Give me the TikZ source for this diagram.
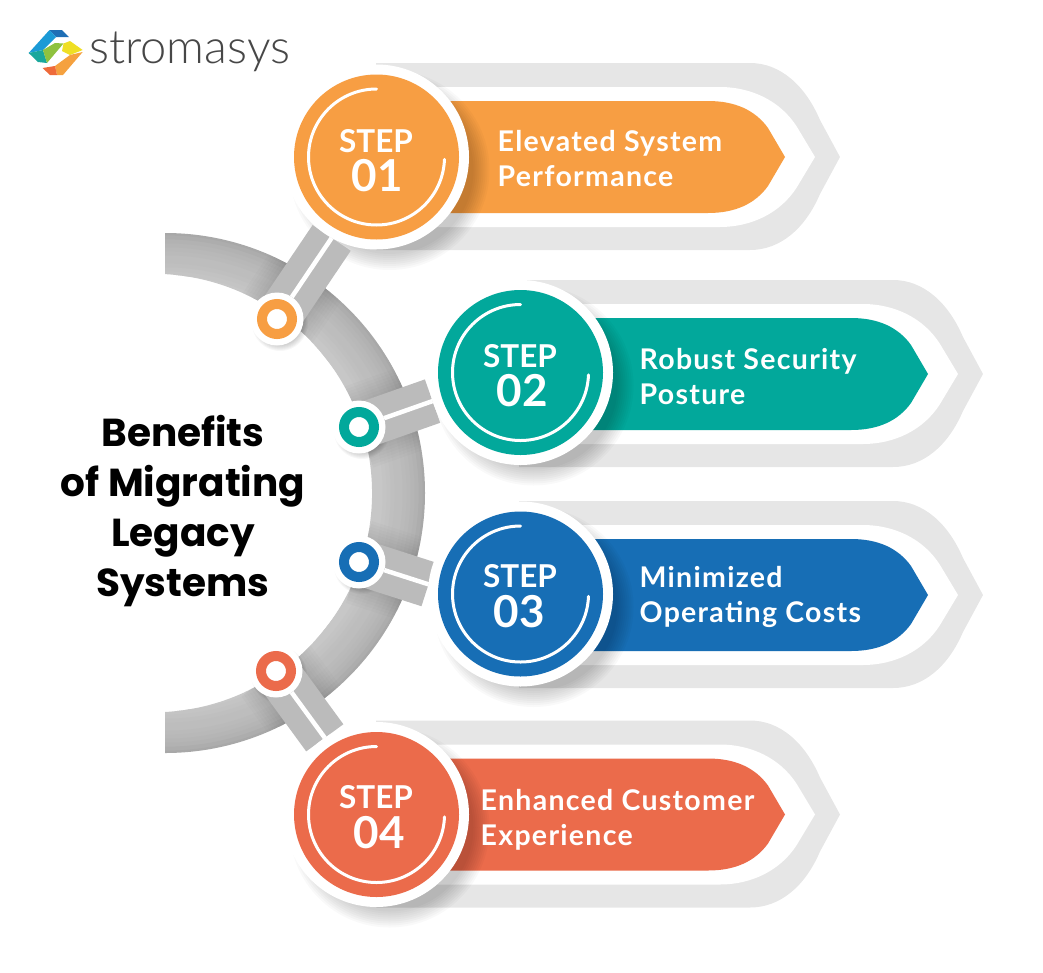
\documentclass[tikz,border=0pt]{standalone}
\usepackage{fontspec}
\usetikzlibrary{calc}
\setmainfont{Lato}
\newfontfamily\headfont{Poppins Bold}
\newfontfamily\logofont{Lato Light}
\newfontfamily\medfont{Lato Bold}
\newfontfamily\barfont[LetterSpace=4.5]{Lato Bold}
\definecolor{corange}{HTML}{F79E43}
\definecolor{cteal}{HTML}{02A89B}
\definecolor{cblue}{HTML}{176EB5}
\definecolor{ccoral}{HTML}{EB6B4B}
\definecolor{strip}{HTML}{E6E6E6}
\definecolor{stemgrey}{HTML}{BBBBBB}
\definecolor{lgblue}{HTML}{1F6FB5}
\definecolor{lgsky}{HTML}{1B9AD6}
\definecolor{lgteal}{HTML}{1AA79C}
\definecolor{lggreen}{HTML}{8FC23F}
\definecolor{lgyellow}{HTML}{EFDF24}
\definecolor{lgorange}{HTML}{F5A13F}
\definecolor{lgred}{HTML}{EE6A3A}
\pgfdeclarelayer{back}
\pgfsetlayers{back,main}
\tikzset{
  halobig/.style={circle,fill=white,inner sep=0,outer sep=0,minimum size=185pt},
  stepdisc/.style={circle,inner sep=0,outer sep=0,minimum size=165pt},
  halosmall/.style={circle,fill=white,inner sep=0,outer sep=0,minimum size=53pt},
  dotring/.style={circle,fill=white,inner sep=0,outer sep=0,minimum size=30pt,line width=10pt},
  steplabel/.style={text=white,font=\fontsize{31.5}{32}\medfont,inner sep=0},
  stepnum/.style={text=white,font=\fontsize{44}{44}\medfont,inner sep=0},
  barlabel/.style={text=white,anchor=base west,font=\fontsize{28.5}{30}\barfont,inner sep=0},
  headlabel/.style={text=black,anchor=base,font=\fontsize{39}{39}\headfont,inner sep=0},
  innerarc/.style={draw=white,line width=3pt,line cap=round},
  stemline/.style={draw=white,line width=4.5pt},
  stembar/.style={draw=stemgrey,line width=46pt}
}
% #1 dx, #2 dy, #3 colour
\newcommand{\arrowbar}[3]{%
  \begin{scope}[shift={(#1,-#2)}]
    \fill[strip] (376,-63) -- (750,-63) .. controls (780,-63) and (805,-85) .. (820,-120) -- (840,-157) -- (820,-194) .. controls (805,-229) and (780,-250) .. (750,-250) -- (376,-250) -- cycle;
    \fill[white] (376,-87) -- (720,-87) .. controls (750,-87) and (780,-100) .. (797,-127) -- (815,-157) -- (797,-187) .. controls (780,-214) and (750,-227) .. (720,-227) -- (376,-227) -- cycle;
    \fill[#3] (400,-101) -- (708,-101) .. controls (735,-101) and (755,-110) .. (768,-128) -- (785,-157) -- (768,-186) .. controls (755,-204) and (735,-213) .. (708,-213) -- (400,-213) -- cycle;
  \end{scope}}
\newcommand{\discshadow}[1]{%
  \foreach \r in {84,86,...,100}{\fill[black,opacity=.025] ($(#1)+(13,-13)$) circle (\r);}}
\newcommand{\dotshadow}[1]{%
  \foreach \r in {22,23,...,28}{\fill[black,opacity=.03] ($(#1)+(3,-4)$) circle (\r);}}
\newcommand{\ringpath}{(165,-233) arc (90:-90:260) -- (165,-712) arc (-86.8:86.8:219.3) -- cycle}
\begin{document}
\begin{tikzpicture}[x=1pt,y=1pt]
\useasboundingbox (0,0) rectangle (1043,-972);

% ---- step discs
\node[halobig] (s1) at (376.5,-157) {};
\node[halobig] (s2) at (520.5,-372.5) {};
\node[halobig] (s3) at (520.5,-594) {};
\node[halobig] (s4) at (376.5,-814.5) {};
\node[stepdisc,fill=corange] (c1) at (s1) {};
\node[stepdisc,fill=cteal] (c2) at (s2) {};
\node[stepdisc,fill=cblue] (c3) at (s3) {};
\node[stepdisc,fill=ccoral] (c4) at (s4) {};
\draw[innerarc] ($(c1)+(90:68)$) arc (90:358:68);
\draw[innerarc] ($(c2)+(90:68)$) arc (90:358:68);
\draw[innerarc] ($(c3)+(90:68)$) arc (90:358:68);
\draw[innerarc] ($(c4)+(90:68)$) arc (90:358:68);

% ---- small dots
\node[halosmall] (d1) at (277,-319) {};
\node[halosmall] (d2) at (359,-427) {};
\node[halosmall] (d3) at (359,-562) {};
\node[halosmall] (d4) at (276,-671) {};
\node[dotring,draw=corange] (r1) at (d1) {};
\node[dotring,draw=cteal] (r2) at (d2) {};
\node[dotring,draw=cblue] (r3) at (d3) {};
\node[dotring,draw=ccoral] (r4) at (d4) {};

% ---- texts
\node[steplabel] (t1) at (376,-141) {STEP};
\node[stepnum] (n1) at (377,-176) {01};
\node[steplabel] (t2) at (520,-356) {STEP};
\node[stepnum] (n2) at (522,-391) {02};
\node[steplabel] (t3) at (520,-576) {STEP};
\node[stepnum] (n3) at (519,-612) {03};
\node[steplabel] (t4) at (376,-797) {STEP};
\node[stepnum] (n4) at (379,-833) {04};

\node[barlabel] (a1) at (497.5,-151) {Elevated System};
\node[barlabel] (b1) at (497.5,-186) {Performance};
\node[barlabel] (a2) at (639.5,-369) {Robust Security};
\node[barlabel] (b2) at (639.5,-404) {Posture};
\node[barlabel] (a3) at (639.5,-587) {Minimized};
\node[barlabel] (b3) at (639.5,-622) {Operating Costs};
\node[barlabel] (a4) at (480.5,-810) {Enhanced Customer};
\node[barlabel] (b4) at (480.5,-845) {Experience};

\node[headlabel] (h1) at (183,-446) {Benefits};
\node[headlabel] (h2) at (183,-496) {of Migrating};
\node[headlabel] (h3) at (183,-546) {Legacy};
\node[headlabel] (h4) at (183,-596) {Systems};

\node[anchor=base west,inner sep=0,text=black!72,font=\fontsize{47}{47}\logofont] (logo) at (89,-63) {stromasys};

% ---- everything that lies under the discs
\begin{pgfonlayer}{back}
  % logo mark
  \fill[lgblue] (49.5,-30) -- (62,-30) -- (69,-37) -- (56,-37) -- cycle;
  \fill[lgsky] (28.7,-53) -- (49.5,-30) -- (56,-37) -- (43,-50) -- cycle;
  \fill[lgteal] (28.7,-53) -- (43,-50) -- (47,-63) -- (38,-62) -- cycle;
  \fill[lggreen] (43,-50) -- (55,-43) -- (63.5,-43.5) -- (47,-63) -- cycle;
  \fill[lgyellow] (63.5,-43.5) -- (70,-41) -- (82.7,-50) -- (70,-55) -- (62,-51) -- cycle;
  \fill[lgorange] (82.7,-52) -- (70,-55) -- (55,-66) -- (57,-75) -- (63,-75) -- cycle;
  \fill[lgred] (42.5,-68) -- (55,-66) -- (57,-75) -- (50,-75) -- cycle;

  % ring
  \begin{scope}
    \clip \ringpath;
    \foreach \r/\p in {200/22,204/22,208/22,212/22,216/22,220/23,224/24,228/25,232/26,236/26,240/27,244/28,248/29,252/30,256/32,260/34}
      {\draw[black!\p,line width=4.6pt] (165,-493) circle (\r);}
    \foreach \w in {50,56,...,86}{
      \draw[black,opacity=.015,line width=\w pt] (d1.center) -- (s1.241);
      \draw[black,opacity=.015,line width=\w pt] (d2.center) -- (s2.198);
      \draw[black,opacity=.015,line width=\w pt] (d3.center) -- (s3.174);
      \draw[black,opacity=.015,line width=\w pt] (d4.center) -- (s4.124);}
  \end{scope}

  % bars and strips
  \arrowbar{0}{0}{corange}
  \arrowbar{143}{217}{cteal}
  \arrowbar{143}{438}{cblue}
  \arrowbar{0}{657.5}{ccoral}

  \discshadow{s1}\discshadow{s2}\discshadow{s3}\discshadow{s4}
  \dotshadow{d1}\dotshadow{d2}\dotshadow{d3}\dotshadow{d4}

  % connectors
  \draw[stembar] (d1.center) -- (s1.241);
  \draw[stembar] (d2.center) -- (s2.198);
  \draw[stembar] (d3.center) -- (s3.174);
  \draw[stembar] (d4.center) -- (s4.124);
  \draw[stemline] (d1) -- (s1.241);
  \draw[stemline] (d2) -- (s2.198);
  \draw[stemline] (d3) -- (s3.174);
  \draw[stemline] (d4) -- (s4.124);
\end{pgfonlayer}
\end{tikzpicture}
\end{document}
